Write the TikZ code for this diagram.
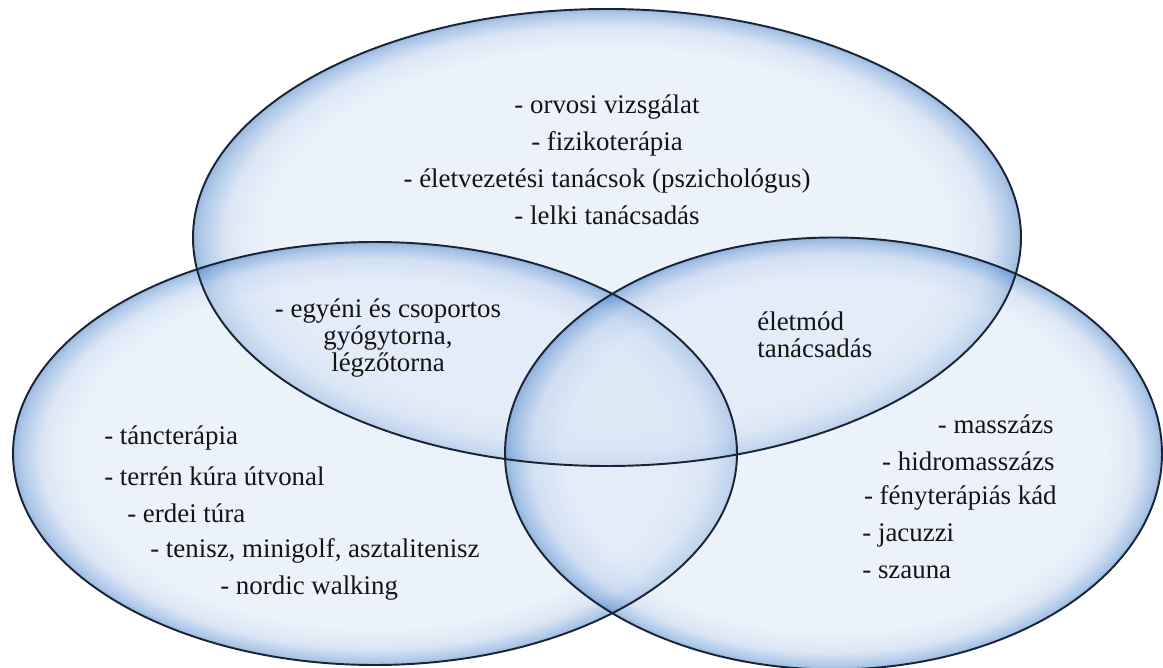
\documentclass[tikz,border=0pt]{standalone}
\usepackage{fontspec}
\setmainfont{Liberation Serif}
\usetikzlibrary{positioning}

%Colors
\definecolor{glassin}{RGB}{218,230,246}
\definecolor{glassmid}{RGB}{186,207,235}
\definecolor{glassout}{RGB}{96,148,212}
\definecolor{glassedge}{RGB}{60,112,186}
\definecolor{rimcolor}{RGB}{24,36,56}
\definecolor{textcolor}{RGB}{20,20,20}

\pgfdeclareradialshading{glass}{\pgfpoint{0bp}{0bp}}{%
  color(0bp)=(glassin); color(20.5bp)=(glassin); color(23bp)=(glassmid);
  color(24.5bp)=(glassout); color(25bp)=(glassedge); color(50bp)=(glassedge)}

\begin{document}
\begin{tikzpicture}
		[x=0.02cm,y=-0.02cm,line cap=round,
		%Styles
		bubble/.style={shading=glass,fill opacity=0.5},
		rim/.style={draw=rimcolor,line width=1.1pt},
		item/.style={inner sep=0pt,text=textcolor,font=\fontsize{15.3}{18}\selectfont},
		pair/.style={item,font=\fontsize{15.3}{15.2}\selectfont}
		]
		
		\useasboundingbox (0,0) rectangle (1163,668);
		
		%The bubbles
		\shade[bubble] (607,237.5) ellipse [x radius=414, y radius=228.5];
		\shade[bubble] (375,453.5) ellipse [x radius=362, y radius=211.5];
		\shade[bubble] (833.5,453.5) ellipse [x radius=328.5, y radius=216];
		\draw[rim] (607,237.5) ellipse [x radius=414, y radius=228.5];
		\draw[rim] (375,453.5) ellipse [x radius=362, y radius=211.5];
		\draw[rim] (833.5,453.5) ellipse [x radius=328.5, y radius=216];
		
		%Top bubble
		\node[item,align=center,font=\fontsize{15.3}{21}\selectfont] (medical) at (607,159.5)
			{- orvosi vizsgálat\\- fizikoterápia\\- életvezetési tanácsok (pszichológus)\\- lelki tanácsadás};
		
		%Overlaps
		\node[pair,align=center] (gym) at (388,338) {- egyéni és csoportos\\gyógytorna,\\légzőtorna};
		\node[pair,align=left,anchor=west] (lifestyle) at (757,335) {életmód\\tanácsadás};
		
		%Left bubble
		\node[item,anchor=west] (dance) at (104,438) {- táncterápia};
		\node[item,anchor=west] (terrain) at (104,476) {- terrén kúra útvonal};
		\node[item,anchor=west] (forest) at (127,513) {- erdei túra};
		\node[item,anchor=west] (tennis) at (150,551) {- tenisz, minigolf, asztalitenisz};
		\node[item,anchor=west] (nordic) at (220,588) {- nordic walking};
		
		%Right bubble
		\node[item,anchor=east] (massage) at (1054,424) {- masszázs};
		\node[item,anchor=east] (hydro) at (1055,461) {- hidromasszázs};
		\node[item,anchor=east] (light) at (1057,498) {- fényterápiás kád};
		\node[item,anchor=west] (jacuzzi) at (862,535) {- jacuzzi};
		\node[item,anchor=west] (sauna) at (862,572) {- szauna};
	\end{tikzpicture}
\end{document}
